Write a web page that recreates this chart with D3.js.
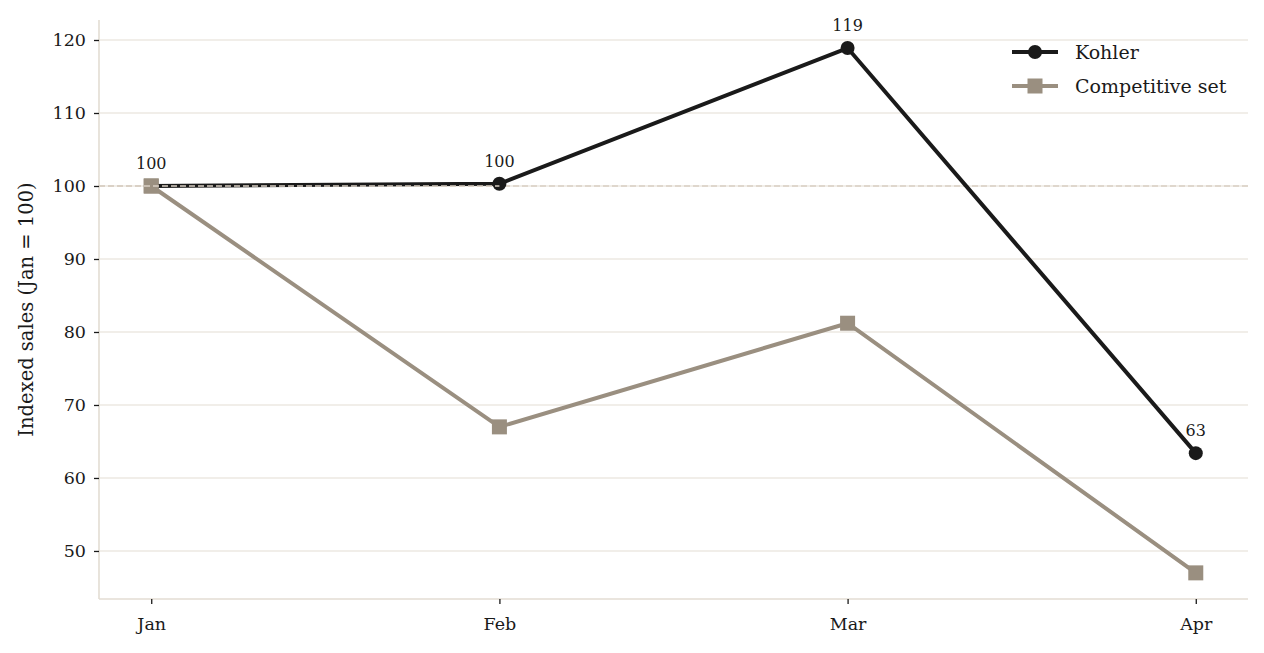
<!DOCTYPE html>
<html>
<head>
<meta charset="utf-8">
<script src="https://cdn.jsdelivr.net/npm/d3@7"></script>
<style>
  body { margin: 0; background: #fff; }
  svg text { font-family: "DejaVu Serif", Georgia, serif; fill: #1a1a1a; }
</style>
</head>
<body>
<div id="chart"></div>
<script>
// data
const months = ["Jan", "Feb", "Mar", "Apr"];
const kohler = [100, 100.3, 118.9, 63.4];
const compSet = [100, 67.0, 81.2, 47.0];
const kohlerLabels = ["100", "100", "119", "63"];
const yTicks = [50, 60, 70, 80, 90, 100, 110, 120];

const width = 1264, height = 653;
const margin = { top: 20, right: 16, bottom: 54, left: 99 };
const colKohler = "#1a1a1a", colComp = "#9a8f80";
const refColor = "#d9cfc4";

const svg = d3.select("#chart").append("svg")
    .attr("width", width)
    .attr("height", height);

const x = d3.scaleLinear().domain([-0.15, 3.15]).range([margin.left, width - margin.right]);
const y = d3.scaleLinear().domain([43.42, 122.74]).range([height - margin.bottom, margin.top]);

//grid
svg.append("g").selectAll("line")
    .data(yTicks)
    .join("line")
    .attr("x1", margin.left).attr("x2", width - margin.right)
    .attr("y1", d => y(d)).attr("y2", d => y(d))
    .attr("stroke", "#ede9e2")
    .attr("stroke-width", 1.4);

//axes
const yAxis = svg.append("g")
    .attr("transform", `translate(${margin.left},0)`)
    .call(d3.axisLeft(y).tickValues(yTicks).tickSize(5).tickPadding(8));
const xAxis = svg.append("g")
    .attr("transform", `translate(0,${height - margin.bottom})`)
    .call(d3.axisBottom(x).tickValues([0, 1, 2, 3]).tickFormat(i => months[i]).tickSize(5).tickPadding(14));
[yAxis, xAxis].forEach(a => {
    a.select(".domain").attr("stroke", "#e3ddd3").attr("stroke-width", 1.6);
    a.selectAll(".tick line").attr("stroke", "#1a1a1a").attr("stroke-width", 1.3);
    a.selectAll(".tick text").attr("font-size", 17.5).attr("fill", "#1a1a1a");
});
// spine only over plot area
yAxis.select(".domain").attr("d", `M0,${margin.top}V${height - margin.bottom}`);
xAxis.select(".domain").attr("d", `M${margin.left},0H${width - margin.right}`);

svg.append("text")
    .attr("transform", `translate(33,${(margin.top + height - margin.bottom) / 2}) rotate(-90)`)
    .attr("text-anchor", "middle")
    .attr("font-size", 19.5)
    .text("Indexed sales (Jan = 100)");

//baseline reference (under the lines)
svg.append("line")
    .attr("x1", margin.left).attr("x2", width - margin.right)
    .attr("y1", y(100)).attr("y2", y(100))
    .attr("stroke", refColor)
    .attr("stroke-width", 1.4)
    .attr("stroke-dasharray", "6,3");

const line = d3.line().x((d, i) => x(i)).y(d => y(d));

//competitive set
svg.append("path")
    .datum(compSet)
    .attr("d", line)
    .attr("fill", "none")
    .attr("stroke", colComp)
    .attr("stroke-width", 4);
svg.append("g").selectAll("rect")
    .data(compSet)
    .join("rect")
    .attr("x", (d, i) => x(i) - 7.5)
    .attr("y", d => y(d) - 7.5)
    .attr("width", 15).attr("height", 15)
    .attr("fill", colComp);

//kohler
svg.append("path")
    .datum(kohler)
    .attr("d", line)
    .attr("fill", "none")
    .attr("stroke", colKohler)
    .attr("stroke-width", 4);
svg.append("g").selectAll("circle")
    .data(kohler)
    .join("circle")
    .attr("cx", (d, i) => x(i))
    .attr("cy", d => y(d))
    .attr("r", 7)
    .attr("fill", colKohler);

// Jan square sits over the kohler start
svg.append("rect")
    .attr("x", x(0) - 7.5).attr("y", y(compSet[0]) - 7.5)
    .attr("width", 15).attr("height", 15)
    .attr("fill", colComp);

// reference dashes show through the flat Jan-Feb stretch
svg.append("line")
    .attr("x1", margin.left).attr("x2", x(1))
    .attr("y1", y(100)).attr("y2", y(100))
    .attr("stroke", refColor)
    .attr("stroke-width", 1.4)
    .attr("stroke-dasharray", "6,3");

//value labels
svg.append("g").selectAll("text")
    .data(kohler)
    .join("text")
    .attr("x", (d, i) => x(i))
    .attr("y", d => y(d) - 17)
    .attr("text-anchor", "middle")
    .attr("font-size", 16)
    .text((d, i) => kohlerLabels[i]);

//legend
const legend = svg.append("g").attr("transform", "translate(1012,52)");
const items = [
    { name: "Kohler", color: colKohler, shape: "circle" },
    { name: "Competitive set", color: colComp, shape: "square" }
];
items.forEach((it, i) => {
    const g = legend.append("g").attr("transform", `translate(0,${i * 34})`);
    g.append("line").attr("x1", 0).attr("x2", 46).attr("stroke", it.color).attr("stroke-width", 4);
    if (it.shape === "circle") {
        g.append("circle").attr("cx", 23).attr("r", 7).attr("fill", it.color);
    } else {
        g.append("rect").attr("x", 15.5).attr("y", -7.5).attr("width", 15).attr("height", 15).attr("fill", it.color);
    }
    g.append("text").attr("x", 63).attr("dy", "0.35em").attr("font-size", 19).text(it.name);
});
</script>
</body>
</html>
